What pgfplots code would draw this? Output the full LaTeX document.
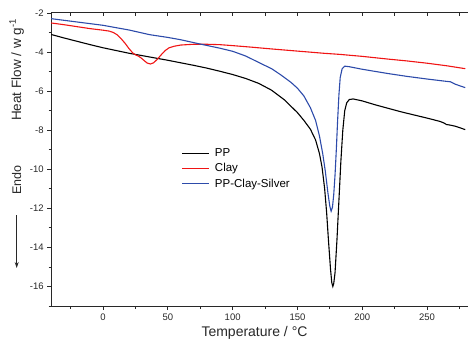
\documentclass[border=0pt]{standalone}
\usepackage{fontspec}
\setmainfont{Liberation Sans}
\usepackage{pgfplots}
\pgfplotsset{compat=1.18}
\usetikzlibrary{arrows.meta}
\definecolor{cblue}{RGB}{45,75,170}
\definecolor{cred}{RGB}{240,20,20}
\definecolor{axgray}{RGB}{40,40,40}
\begin{document}
\begin{tikzpicture}
\begin{axis}[
  at={(0,0)}, anchor=south west,
  scale only axis, width=421.2pt, height=293pt,
  xmin=-40, xmax=285, ymin=-17, ymax=-2,
  axis x line*=bottom, axis y line*=left,
  tick align=outside,
  xtick={0,50,...,250}, minor xtick={-25,25,75,125,175,225,275},
  ytick={-16,-14,...,-2}, minor ytick={-17,-15,...,-3},
  major tick length=4pt, minor tick length=2.5pt,
  tick style={axgray, line width=0.8pt},
  axis line style={axgray, line width=1pt},
  ticklabel style={font=\fontsize{9.5}{10}\selectfont, text=axgray},
  /pgf/number format/assume math mode=true,
  legend style={at={(0.31,0.545)}, anchor=north west, draw=none, fill=none,
    font=\fontsize{11.5}{13}\selectfont, row sep=1.5pt, inner sep=0pt,
    nodes={inner xsep=5pt}},
  legend cell align=left,
  legend image code/.code={\draw[#1, line width=1pt] (0pt,0pt) -- (27pt,0pt);},
]
\addplot[black, line width=1.1pt] coordinates {
(-40,-3.1) (-30,-3.28) (-20,-3.45) (-10,-3.62) (0,-3.78) (10,-3.92) (20,-4.06) (30,-4.18) (40,-4.3) (50,-4.42) (60,-4.55) (70,-4.68) (80,-4.82) (90,-4.98) (100,-5.15) (110,-5.35) (120,-5.6) (130,-5.95) (140,-6.45) (150,-7.1) (155,-7.5) (160,-7.95) (164,-8.5) (167,-9.2) (169,-9.9) (171,-11.0) (172.5,-12.2) (174,-13.7) (175.5,-15.1) (176.5,-15.8) (177.3,-16.0) (178,-15.85) (179,-15.3) (180.5,-13.6) (182,-11.6) (183.5,-9.6) (185,-8.0) (186.5,-7.0) (188,-6.6) (190,-6.43) (193,-6.4) (200,-6.5) (210,-6.7) (220,-6.88) (230,-7.06) (240,-7.22) (250,-7.38) (260,-7.55) (263,-7.63) (265,-7.71) (268,-7.74) (272,-7.8) (279.5,-7.97)
};
\addlegendentry{PP}
\addplot[cred, line width=1.1pt] coordinates {
(-40,-2.51) (-30,-2.6) (-20,-2.7) (-10,-2.8) (0,-2.88) (5,-2.93) (8,-3.0) (11,-3.12) (14,-3.32) (17,-3.55) (20,-3.82) (23,-4.05) (25,-4.14) (27,-4.2) (29,-4.28) (32,-4.45) (34,-4.56) (36.5,-4.61) (39,-4.55) (42,-4.36) (45,-4.13) (48,-3.92) (51,-3.78) (55,-3.7) (60,-3.64) (70,-3.6) (80,-3.6) (90,-3.62) (100,-3.67) (113,-3.74) (130,-3.84) (150,-3.95) (170,-4.06) (183,-4.12) (200,-4.22) (220,-4.36) (234,-4.45) (250,-4.57) (265,-4.7) (279.5,-4.85)
};
\addlegendentry{Clay}
\addplot[cblue, line width=1.1pt] coordinates {
(-40,-2.29) (-20,-2.46) (0,-2.63) (20,-2.87) (36,-3.11) (50,-3.25) (60,-3.37) (75,-3.59) (90,-3.8) (100,-3.96) (110,-4.2) (121,-4.56) (130,-4.85) (137,-5.16) (145,-5.55) (150,-5.85) (155,-6.25) (160,-6.85) (164,-7.5) (167,-8.3) (169.5,-9.2) (171.5,-10.1) (173.5,-11.2) (175,-11.9) (176,-12.15) (177,-11.95) (178,-11.3) (179,-10.3) (180,-9.0) (181,-7.5) (182,-6.2) (183,-5.3) (184.5,-4.85) (186.5,-4.72) (190,-4.75) (200,-4.88) (209,-4.98) (220,-5.1) (234,-5.24) (250,-5.38) (265,-5.5) (268,-5.52) (272,-5.65) (275,-5.72) (279.5,-5.82)
};
\addlegendentry{PP-Clay-Silver}
\end{axis}
\begin{axis}[
  at={(0,0)}, anchor=south west,
  scale only axis, width=421.2pt, height=293pt,
  xmin=-40, xmax=285, ymin=-17, ymax=-2,
  axis x line*=top, axis y line=none,
  tick align=inside,
  xtick={-25,0,...,275}, xticklabels={},
  major tick length=3pt,
  tick style={axgray, line width=0.8pt},
  axis line style={axgray, line width=1pt},
]
\end{axis}
\node[rotate=90, font=\fontsize{13.5}{15}\selectfont, text=axgray] at (-34.5pt,236.2pt) {Heat Flow / w g\textsuperscript{-1}};
\node[rotate=90, font=\fontsize{12.5}{14}\selectfont, text=axgray] at (-34.5pt,126pt) {Endo};
\draw[axgray, line width=0.8pt, -{Stealth[length=6pt,width=4pt]}] (-34.5pt,91pt) -- (-34.5pt,38pt);
\node[font=\fontsize{14}{16}\selectfont, text=axgray] at (203.3pt,-27pt) {Temperature / °C};
\pgfresetboundingbox
\useasboundingbox (-51.2pt,-35pt) rectangle (416.8pt,306pt);
\end{tikzpicture}
\end{document}
